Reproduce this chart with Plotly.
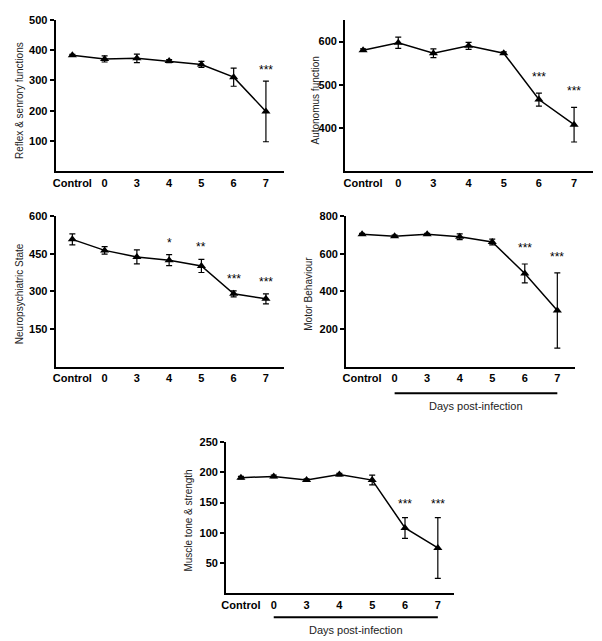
import plotly.graph_objects as go

W, H = 602, 641

categories = ["Control", "0", "3", "4", "5", "6", "7"]

reflex = [383, 371, 373, 364, 353, 311, 198]
reflex_err = [3, 10, 14, 5, 10, 30, 100]
reflex_sig = ["", "", "", "", "", "", "***"]

autonom = [580, 597, 573, 590, 573, 466, 408]
autonom_err = [3, 13, 10, 8, 3, 15, 40]
autonom_sig = ["", "", "", "", "", "***", "***"]

neuro = [507, 463, 437, 424, 401, 290, 270]
neuro_err = [22, 15, 28, 22, 26, 12, 20]
neuro_sig = ["", "", "", "*", "**", "***", "***"]

motor = [703, 693, 703, 690, 662, 495, 298]
motor_err = [5, 5, 5, 15, 15, 50, 200]
motor_sig = ["", "", "", "", "", "***", "***"]

muscle = [191, 193, 187, 196, 187, 108, 75]
muscle_err = [2, 2, 2, 2, 8, 17, 50]
muscle_sig = ["", "", "", "", "", "***", "***"]

titles = ["Reflex & senrory functions", "Autonomus function", "Neuropsychiatric State",
          "Motor Behaviour", "Muscle tone & strength"]
yticks = [[100, 200, 300, 400, 500], [400, 500, 600], [150, 300, 450, 600],
          [200, 400, 600, 800], [50, 100, 150, 200, 250]]
days_label = "Days post-infection"

FONT = "Arial, 'Liberation Sans', sans-serif"

panels = [
    dict(vals=reflex, err=reflex_err, sig=reflex_sig, box=(51, 281, 14, 167),
         xr=[-0.52, 6.55], yr=[0, 500], tpos=(14, 95), days=False, sshift=2),
    dict(vals=autonom, err=autonom_err, sig=autonom_sig, box=(343, 593, 14, 167),
         xr=[-0.51, 6.54], yr=[300, 650], tpos=(313, 95), days=False, sshift=7),
    dict(vals=neuro, err=neuro_err, sig=neuro_sig, box=(51, 281, 212, 364),
         xr=[-0.52, 6.55], yr=[0, 600], tpos=(14, 290), days=False, sshift=3),
    dict(vals=motor, err=motor_err, sig=motor_sig, box=(344, 575, 212, 364),
         xr=[-0.49, 6.55], yr=[0, 800], tpos=(306, 290), days=True, dline=391, dtext=404,
         sshift=7),
    dict(vals=muscle, err=muscle_err, sig=muscle_sig, box=(223, 453, 440, 593),
         xr=[-0.45, 6.5], yr=[0, 250], tpos=(185, 519), days=True, dline=617, dtext=630,
         sshift=5),
]

fig = go.Figure()
annotations = []
shapes = []

for i, p in enumerate(panels):
    n = "" if i == 0 else str(i + 1)
    xa, ya = "x" + n, "y" + n
    fig.add_trace(go.Scatter(
        x=categories, y=p["vals"], xaxis=xa, yaxis=ya, mode="lines+markers",
        line=dict(color="black", width=1.5),
        marker=dict(symbol="triangle-up", size=8, color="black"),
        error_y=dict(type="data", array=p["err"], visible=True, color="black",
                     thickness=1.2, width=3),
        showlegend=False, cliponaxis=False,
    ))
    x0, x1, yt, yb = p["box"]
    common_x = dict(domain=[x0 / W, x1 / W], range=p["xr"], type="category",
                    showline=True, linecolor="black", linewidth=2, ticks="",
                    showgrid=False, zeroline=False, anchor=ya,
                    tickfont=dict(family=FONT, size=11, color="black", weight="bold"))
    common_y = dict(domain=[1 - yb / H, 1 - yt / H], range=p["yr"],
                    showline=True, linecolor="black", linewidth=2, ticks="outside",
                    ticklen=4, tickwidth=1.5, tickcolor="black",
                    tickvals=yticks[i], showgrid=False, zeroline=False, anchor=xa,
                    tickfont=dict(family=FONT, size=11, color="black", weight="bold"))
    fig.update_layout(**{"xaxis" + n: common_x, "yaxis" + n: common_y})

    tx, ty = p["tpos"]
    annotations.append(dict(text=titles[i], x=tx / W, y=1 - ty / H, xref="paper", yref="paper",
                            textangle=-90, showarrow=False, xanchor="center", yanchor="middle",
                            font=dict(family=FONT, size=10, color="#222")))
    for k, (v, e, s) in enumerate(zip(p["vals"], p["err"], p["sig"])):
        if s:
            annotations.append(dict(text=s, x=k, y=v + e, xref=xa, yref=ya, showarrow=False,
                                    yanchor="bottom", yshift=p["sshift"],
                                    font=dict(family=FONT, size=12, color="black")))
    if p["days"]:
        i0 = categories.index("0")
        i1 = categories.index("7")
        shapes.append(dict(type="line", xref=xa, yref="paper", x0=i0, x1=i1,
                           y0=1 - p["dline"] / H, y1=1 - p["dline"] / H,
                           line=dict(color="black", width=2)))
        annotations.append(dict(text=days_label, x=(i0 + i1) / 2, y=1 - p["dtext"] / H,
                                xref=xa, yref="paper", showarrow=False,
                                xanchor="center", yanchor="middle",
                                font=dict(family=FONT, size=11, color="#222")))

fig.update_layout(width=W, height=H, margin=dict(l=0, r=0, t=0, b=0),
                  paper_bgcolor="white", plot_bgcolor="white",
                  annotations=annotations, shapes=shapes)

fig.write_html("out.html", config={"displayModeBar": False},
               post_script="document.body.style.margin='0px';")
